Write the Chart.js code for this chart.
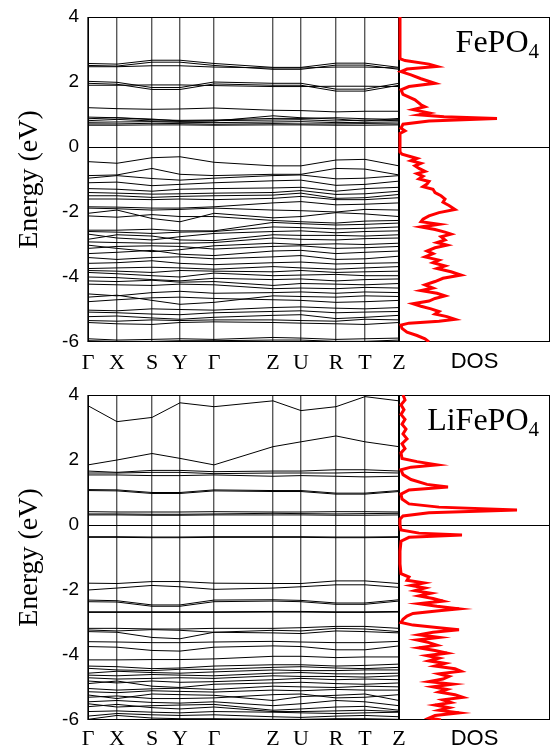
<!DOCTYPE html>
<html lang="en">
<head>
    <meta charset="UTF-8">
    <title>FePO4 / LiFePO4 band structure and DOS</title>
    <script src="https://cdn.jsdelivr.net/npm/chart.js"></script>
    <style>
        body {
            margin: 0;
            background: #fff;
        }
        .stage {
            position: relative;
            width: 551px;
            height: 752px;
        }
        canvas {
            position: absolute;
        }
    </style>
</head>
<body>
    <div class="stage">
        <canvas id="feBand"></canvas>
        <canvas id="feDos"></canvas>
        <canvas id="liBand"></canvas>
        <canvas id="liDos"></canvas>
    </div>
    <script>
        // k-path: distance along the path and the label of each high-symmetry point
        const kDist = [0, 29, 64, 92, 126, 185, 213, 248, 277, 311];
        const kLabels = ['Γ', 'X', 'S', 'Y', 'Γ', 'Z', 'U', 'R', 'T', 'Z'];
        const energyTicks = [-6, -4, -2, 0, 2, 4];

        // FePO4 bands, energy (eV) at each k-point
        const feBands = [
            [2.57, 2.55, 2.67, 2.67, 2.57, 2.45, 2.45, 2.58, 2.58, 2.45],
            [2.51, 2.49, 2.61, 2.61, 2.51, 2.39, 2.39, 2.52, 2.52, 2.39],
            [2.47, 2.47, 2.50, 2.50, 2.46, 2.43, 2.43, 2.46, 2.46, 2.43],
            [2.02, 1.99, 1.83, 1.83, 2.00, 1.96, 1.96, 1.78, 1.78, 1.96],
            [1.96, 1.93, 1.77, 1.77, 1.94, 1.90, 1.90, 1.72, 1.72, 1.90],
            [1.90, 1.90, 1.91, 1.91, 1.89, 1.86, 1.86, 1.87, 1.87, 1.86],
            [1.21, 1.18, 1.16, 1.17, 1.20, 1.13, 1.12, 1.08, 1.10, 1.10],
            [0.92, 0.90, 0.86, 0.80, 0.80, 0.96, 0.90, 0.86, 0.80, 0.88],
            [0.87, 0.90, 0.84, 0.82, 0.83, 0.88, 0.88, 0.90, 0.87, 0.85],
            [0.81, 0.85, 0.80, 0.79, 0.81, 0.83, 0.84, 0.80, 0.83, 0.81],
            [0.76, 0.77, 0.78, 0.76, 0.75, 0.77, 0.78, 0.75, 0.76, 0.77],
            [0.71, 0.71, 0.73, 0.72, 0.70, 0.72, 0.71, 0.71, 0.72, 0.71],
            [0.67, 0.67, 0.68, 0.68, 0.67, 0.68, 0.68, 0.67, 0.67, 0.68],
            [-0.45, -0.50, -0.33, -0.30, -0.47, -0.58, -0.58, -0.40, -0.38, -0.58],
            [-0.88, -0.86, -0.66, -0.84, -0.88, -0.84, -0.84, -0.66, -0.68, -0.86],
            [-0.96, -0.88, -0.97, -1.02, -0.96, -0.88, -0.86, -0.98, -0.96, -0.88],
            [-1.10, -1.08, -1.19, -1.15, -1.10, -1.04, -1.02, -1.18, -1.15, -1.05],
            [-1.28, -1.30, -1.36, -1.30, -1.28, -1.26, -1.24, -1.36, -1.28, -1.24],
            [-1.40, -1.42, -1.45, -1.44, -1.42, -1.40, -1.34, -1.46, -1.44, -1.36],
            [-1.50, -1.50, -1.55, -1.52, -1.50, -1.48, -1.42, -1.58, -1.56, -1.46],
            [-1.60, -1.60, -1.62, -1.60, -1.62, -1.58, -1.52, -1.62, -1.62, -1.56],
            [-1.84, -1.85, -1.88, -1.88, -1.84, -1.72, -1.68, -1.78, -1.76, -1.72],
            [-1.88, -1.90, -1.94, -1.92, -1.88, -1.94, -1.96, -2.00, -1.92, -1.94],
            [-2.04, -1.94, -2.20, -2.30, -2.04, -2.18, -2.14, -2.02, -2.06, -2.14],
            [-2.12, -2.16, -2.08, -2.14, -2.14, -2.26, -2.30, -2.34, -2.28, -2.26],
            [-2.56, -2.56, -2.53, -2.58, -2.58, -2.32, -2.36, -2.40, -2.38, -2.34],
            [-2.60, -2.62, -2.66, -2.62, -2.60, -2.46, -2.48, -2.52, -2.50, -2.46],
            [-2.68, -2.80, -2.86, -2.76, -2.66, -2.60, -2.58, -2.64, -2.60, -2.58],
            [-2.84, -2.70, -2.74, -2.86, -2.88, -2.70, -2.72, -2.72, -2.74, -2.70],
            [-2.92, -2.94, -2.96, -2.96, -2.94, -2.80, -2.84, -2.86, -2.82, -2.80],
            [-3.02, -3.12, -3.22, -3.16, -3.04, -2.96, -3.00, -2.98, -3.00, -2.96],
            [-3.12, -3.06, -3.04, -3.06, -3.14, -3.06, -3.04, -3.12, -3.10, -3.06],
            [-3.28, -3.24, -3.18, -3.30, -3.34, -3.20, -3.18, -3.28, -3.24, -3.20],
            [-3.40, -3.46, -3.40, -3.38, -3.44, -3.38, -3.34, -3.46, -3.44, -3.36],
            [-3.58, -3.56, -3.50, -3.58, -3.62, -3.56, -3.54, -3.60, -3.58, -3.56],
            [-3.74, -3.72, -3.70, -3.72, -3.76, -3.68, -3.72, -3.76, -3.72, -3.68],
            [-3.80, -3.82, -3.86, -3.80, -3.82, -3.84, -3.80, -3.86, -3.84, -3.82],
            [-3.86, -3.90, -3.96, -4.00, -3.88, -3.96, -3.94, -3.92, -3.96, -3.96],
            [-4.00, -4.02, -4.08, -4.12, -4.04, -4.08, -4.06, -4.12, -4.08, -4.06],
            [-4.12, -4.14, -4.10, -4.16, -4.14, -4.26, -4.20, -4.22, -4.24, -4.20],
            [-4.22, -4.24, -4.26, -4.22, -4.24, -4.36, -4.34, -4.36, -4.32, -4.34],
            [-4.52, -4.58, -4.48, -4.44, -4.50, -4.48, -4.46, -4.50, -4.46, -4.48],
            [-4.62, -4.56, -4.72, -4.84, -4.78, -4.58, -4.60, -4.62, -4.58, -4.60],
            [-4.76, -4.70, -4.64, -4.62, -4.66, -4.70, -4.72, -4.78, -4.76, -4.72],
            [-5.02, -5.04, -4.98, -5.00, -5.02, -4.94, -4.92, -4.96, -4.98, -4.94],
            [-5.08, -5.10, -5.14, -5.16, -5.10, -5.06, -5.04, -5.10, -5.08, -5.06],
            [-5.22, -5.20, -5.26, -5.30, -5.24, -5.18, -5.16, -5.28, -5.24, -5.18],
            [-5.34, -5.36, -5.32, -5.34, -5.32, -5.32, -5.34, -5.36, -5.30, -5.32],
            [-5.40, -5.44, -5.46, -5.40, -5.38, -5.40, -5.42, -5.44, -5.46, -5.40],
            [-5.90, -5.94, -5.92, -5.90, -5.92, -5.86, -5.88, -5.92, -5.90, -5.88],
            [-5.96, -5.98, -5.98, -5.96, -5.96, -5.94, -5.94, -5.98, -5.98, -5.94]
        ];

        // LiFePO4 bands
        const liBands = [
            [3.67, 3.18, 3.31, 3.76, 3.64, 3.82, 3.52, 3.64, 3.95, 3.82],
            [1.85, 2.00, 2.20, 2.05, 1.85, 2.41, 2.56, 2.74, 2.56, 2.41],
            [1.66, 1.62, 1.68, 1.68, 1.64, 1.66, 1.66, 1.70, 1.70, 1.66],
            [1.60, 1.60, 1.62, 1.62, 1.58, 1.60, 1.60, 1.60, 1.62, 1.60],
            [1.54, 1.54, 1.52, 1.52, 1.54, 1.50, 1.52, 1.50, 1.48, 1.50],
            [1.09, 1.08, 1.00, 1.00, 1.08, 1.06, 1.06, 0.98, 0.98, 1.06],
            [1.06, 1.05, 0.97, 0.97, 1.05, 1.03, 1.03, 0.95, 0.95, 1.03],
            [0.41, 0.40, 0.40, 0.40, 0.41, 0.40, 0.40, 0.41, 0.41, 0.40],
            [0.34, 0.34, 0.33, 0.33, 0.34, 0.36, 0.35, 0.34, 0.35, 0.36],
            [0.31, 0.31, 0.30, 0.30, 0.31, 0.31, 0.31, 0.30, 0.30, 0.31],
            [-0.36, -0.36, -0.37, -0.37, -0.36, -0.36, -0.36, -0.37, -0.37, -0.36],
            [-0.38, -0.38, -0.39, -0.39, -0.38, -0.38, -0.38, -0.39, -0.39, -0.38],
            [-1.79, -1.80, -1.74, -1.74, -1.79, -1.80, -1.80, -1.72, -1.72, -1.80],
            [-2.00, -1.94, -1.86, -1.90, -1.98, -1.94, -1.90, -1.84, -1.84, -1.92],
            [-2.31, -2.33, -2.46, -2.46, -2.31, -2.30, -2.32, -2.40, -2.40, -2.30],
            [-2.36, -2.37, -2.50, -2.50, -2.36, -2.34, -2.36, -2.44, -2.44, -2.34],
            [-2.67, -2.67, -2.67, -2.67, -2.67, -2.66, -2.66, -2.67, -2.67, -2.66],
            [-2.69, -2.69, -2.69, -2.69, -2.69, -2.68, -2.68, -2.69, -2.69, -2.68],
            [-3.18, -3.18, -3.20, -3.20, -3.18, -3.18, -3.16, -3.12, -3.12, -3.18],
            [-3.23, -3.26, -3.22, -3.24, -3.30, -3.24, -3.26, -3.18, -3.20, -3.28],
            [-3.28, -3.30, -3.46, -3.50, -3.30, -3.32, -3.34, -3.26, -3.28, -3.32],
            [-3.59, -3.60, -3.62, -3.62, -3.60, -3.58, -3.60, -3.62, -3.62, -3.58],
            [-3.74, -3.76, -3.86, -3.88, -3.76, -3.72, -3.74, -3.84, -3.84, -3.72],
            [-4.15, -4.15, -4.14, -4.14, -4.12, -4.04, -4.04, -4.08, -4.06, -4.06],
            [-4.34, -4.36, -4.42, -4.40, -4.34, -4.30, -4.30, -4.34, -4.32, -4.28],
            [-4.41, -4.46, -4.48, -4.44, -4.44, -4.38, -4.36, -4.40, -4.42, -4.38],
            [-4.56, -4.50, -4.54, -4.56, -4.52, -4.46, -4.48, -4.48, -4.46, -4.46],
            [-4.62, -4.64, -4.60, -4.62, -4.64, -4.56, -4.54, -4.58, -4.58, -4.56],
            [-4.70, -4.74, -4.72, -4.70, -4.72, -4.64, -4.66, -4.66, -4.68, -4.64],
            [-4.80, -4.86, -4.80, -4.84, -4.82, -4.76, -4.72, -4.76, -4.74, -4.76],
            [-4.88, -4.80, -4.96, -5.00, -4.90, -4.86, -4.84, -4.88, -4.90, -4.86],
            [-5.03, -5.08, -5.04, -5.02, -5.06, -4.96, -4.98, -5.00, -4.96, -4.98],
            [-5.13, -5.16, -5.10, -5.12, -5.14, -5.08, -5.10, -5.06, -5.08, -5.08],
            [-5.23, -5.34, -5.20, -5.22, -5.24, -5.40, -5.28, -5.24, -5.20, -5.40],
            [-5.30, -5.26, -5.34, -5.34, -5.32, -5.22, -5.20, -5.32, -5.30, -5.22],
            [-5.44, -5.40, -5.46, -5.48, -5.44, -5.56, -5.50, -5.40, -5.44, -5.56],
            [-5.50, -5.60, -5.56, -5.54, -5.52, -5.70, -5.66, -5.60, -5.58, -5.70],
            [-5.59, -5.52, -5.62, -5.66, -5.60, -5.74, -5.74, -5.72, -5.70, -5.74],
            [-5.74, -5.72, -5.76, -5.78, -5.74, -5.76, -5.78, -5.80, -5.78, -5.76],
            [-5.88, -5.80, -5.84, -5.86, -5.84, -5.90, -5.92, -5.88, -5.86, -5.90],
            [-5.98, -5.86, -5.94, -5.96, -5.96, -5.98, -5.98, -5.96, -5.96, -5.98]
        ];

        // total DOS (arb. units) against energy (eV)
        const feDosEnergy = [4, 2.72, 2.66, 2.55, 2.48, 2.40, 2.32, 2.22, 2.10, 1.96, 1.86, 1.76, 1.62, 1.45, 1.30, 1.24, 1.15, 1.05, 0.99, 0.93, 0.88, 0.80, 0.70, 0.58, 0.50, 0.42, 0.00,
            -0.15, -0.22, -0.30, -0.35, -0.42, -0.50, -0.58, -0.66, -0.75, -0.82, -0.90, -0.98, -1.06, -1.14, -1.22, -1.30, -1.40, -1.50, -1.60, -1.70, -1.80, -1.92,
            -2.02, -2.12, -2.22, -2.30, -2.38, -2.46, -2.54, -2.62, -2.68, -2.76, -2.86, -2.94, -3.02, -3.10, -3.20, -3.28, -3.38, -3.48, -3.56, -3.66, -3.74, -3.84,
            -3.94, -4.04, -4.14, -4.24, -4.34, -4.42, -4.50, -4.58, -4.66, -4.74, -4.82, -4.90, -4.98, -5.06, -5.14, -5.22, -5.30, -5.36, -5.42, -5.48, -5.58,
            -5.70, -5.80, -5.90, -6.00];
        const feDosValue = [1, 1, 6, 30, 38, 8, 2, 12, 22, 36, 10, 2, 4, 16, 22, 26, 14, 30, 20, 45, 98, 30, 4, 2, 6, 1, 1,
            1, 3, 12, 18, 12, 22, 16, 20, 26, 18, 24, 20, 30, 28, 24, 34, 36, 42, 46, 44, 50, 56,
            40, 30, 24, 22, 40, 22, 36, 46, 52, 42, 46, 38, 48, 36, 28, 34, 26, 40, 34, 46, 38, 52,
            62, 44, 36, 26, 34, 22, 38, 46, 36, 30, 14, 22, 32, 40, 36, 48, 56, 40, 10, 2, 3,
            8, 18, 26, 30];

        const liDosEnergy = [4.00, 3.85, 3.70, 3.55, 3.40, 3.25, 3.10, 2.95, 2.80, 2.65, 2.50, 2.35, 2.22, 2.05, 1.95, 1.85, 1.78, 1.70, 1.55, 1.40, 1.25, 1.17, 1.08,
            0.95, 0.80, 0.65, 0.55, 0.46, 0.38, 0.28, 0.18, 0.00, -0.15, -0.25, -0.31, -0.38, -0.50, -0.80, -1.20, -1.50, -1.60, -1.70, -1.78, -1.86, -1.94,
            -2.02, -2.10, -2.18, -2.26, -2.34, -2.42, -2.50, -2.58, -2.64, -2.72, -2.80, -2.90, -3.00, -3.08, -3.16, -3.22, -3.30, -3.38, -3.46, -3.54, -3.62,
            -3.70, -3.78, -3.86, -3.94, -4.02, -4.10, -4.18, -4.26, -4.34, -4.42, -4.50, -4.58, -4.66, -4.74, -4.82, -4.90, -4.98, -5.06, -5.14, -5.22,
            -5.30, -5.38, -5.46, -5.54, -5.62, -5.70, -5.78, -5.86, -5.94, -6.00];
        const liDosValue = [4, 6, 2, 5, 2, 6, 3, 7, 4, 8, 3, 6, 2, 3, 18, 38, 12, 2, 4, 12, 28, 49, 10,
            2, 3, 10, 40, 118, 30, 4, 1, 1, 2, 20, 63, 10, 2, 1, 1, 2, 10, 8, 25, 12, 26,
            16, 32, 20, 34, 44, 20, 38, 60, 40, 14, 8, 4, 2, 14, 40, 60, 34, 20, 40, 18, 30,
            38, 20, 36, 48, 28, 40, 30, 46, 36, 56, 62, 40, 50, 44, 30, 54, 34, 48, 40, 56,
            64, 44, 52, 36, 50, 40, 60, 36, 30, 42];

        const serif = "'Liberation Serif', 'Times New Roman', serif";
        const sans = "'Liberation Sans', Arial, sans-serif";

        // outer box plus the Fermi level line
        const framePlugin = {
            id: 'frame',
            beforeDatasetsDraw(chart) {
                const {ctx, chartArea: a, scales} = chart;
                const y0 = Math.round(scales.y.getPixelForValue(0)) + 0.5;
                ctx.save();
                ctx.strokeStyle = '#000';
                ctx.lineWidth = 1;
                ctx.beginPath();
                ctx.moveTo(a.left, y0);
                ctx.lineTo(a.right, y0);
                ctx.stroke();
                ctx.strokeRect(Math.round(a.left) + 0.5, Math.round(a.top) + 0.5,
                    Math.round(a.width) - 1, Math.round(a.height) - 1);
                ctx.restore();
            }
        };

        // compound name with subscript in the DOS panel
        const namePlugin = {
            id: 'compound',
            afterDraw(chart, args, opts) {
                const {ctx, chartArea: a} = chart;
                ctx.save();
                ctx.fillStyle = '#000';
                ctx.textBaseline = 'alphabetic';
                ctx.font = '21px ' + serif;
                const subW = ctx.measureText(opts.sub).width;
                ctx.font = '32px ' + serif;
                const mainW = ctx.measureText(opts.main).width;
                const x = a.right - 11 - subW - mainW;
                const y = a.top + 35;
                ctx.fillText(opts.main, x, y);
                ctx.font = '21px ' + serif;
                ctx.fillText(opts.sub, x + mainW, y + 6);
                ctx.restore();
            }
        };

        // keep label overhang from shrinking the plot area
        function noMargins(s) {
            s.paddingLeft = 0;
            s.paddingRight = 0;
            s.paddingTop = 0;
            s.paddingBottom = 0;
        }

        function placeCanvas(id, left, top, width, height) {
            const c = document.getElementById(id);
            c.style.left = left + 'px';
            c.style.top = top + 'px';
            c.style.width = width + 'px';
            c.style.height = height + 'px';
            c.width = width;
            c.height = height;
            return c;
        }

        function createBandChart(id, top, height, areaTop, areaBottom, labelPad, bands) {
            // wider than the plot so the last k label is not cut off
            const canvas = placeCanvas(id, 0, top, 412, height);
            return new Chart(canvas.getContext('2d'), {
                type: 'line',
                data: {
                    datasets: bands.map(b => ({
                        data: b.map((e, i) => ({x: kDist[i], y: e})),
                        borderColor: '#000',
                        borderWidth: 1,
                        pointRadius: 0,
                        tension: 0,
                        fill: false
                    }))
                },
                options: {
                    responsive: false,
                    animation: false,
                    events: [],
                    layout: {padding: {left: 0, right: 13, top: areaTop, bottom: 0}},
                    plugins: {legend: {display: false}, tooltip: {enabled: false}},
                    scales: {
                        x: {
                            type: 'linear',
                            min: kDist[0],
                            max: kDist[kDist.length - 1],
                            afterBuildTicks: s => { s.ticks = kDist.map(v => ({value: v})); },
                            afterFit: s => { s.height = height - areaBottom; noMargins(s); },
                            ticks: {
                                autoSkip: false,
                                maxRotation: 0,
                                padding: labelPad,
                                color: '#000',
                                font: {family: serif, size: 22},
                                callback: (v, i) => kLabels[i]
                            },
                            grid: {color: '#5a5a5a', lineWidth: 1.4, drawTicks: false},
                            border: {display: false}
                        },
                        y: {
                            min: -6,
                            max: 4,
                            afterBuildTicks: s => { s.ticks = energyTicks.map(v => ({value: v})); },
                            afterFit: s => { s.width = 88; noMargins(s); },
                            ticks: {
                                padding: 9,
                                color: '#000',
                                font: {family: sans, size: 19}
                            },
                            grid: {display: false, drawTicks: false},
                            border: {display: false},
                            title: {
                                display: true,
                                text: 'Energy (eV)',
                                color: '#000',
                                font: {family: serif, size: 28},
                                padding: {top: 13, bottom: 0}
                            }
                        }
                    }
                },
                plugins: [framePlugin]
            });
        }

        function createDosChart(id, top, height, areaTop, areaBottom, energy, dos, main, sub) {
            const canvas = placeCanvas(id, 395, top, 156, height);
            return new Chart(canvas.getContext('2d'), {
                type: 'scatter',
                data: {
                    datasets: [{
                        data: energy.map((e, i) => ({x: dos[i], y: e})),
                        showLine: true,
                        borderColor: '#ff0000',
                        borderWidth: 3,
                        pointRadius: 0,
                        tension: 0,
                        clip: {left: 4, right: 0, top: 0, bottom: 0}
                    }]
                },
                options: {
                    responsive: false,
                    animation: false,
                    events: [],
                    layout: {padding: {left: 4, right: 1, top: areaTop, bottom: 0}},
                    plugins: {
                        legend: {display: false},
                        tooltip: {enabled: false},
                        compound: {main: main, sub: sub}
                    },
                    scales: {
                        x: {
                            type: 'linear',
                            min: 0,
                            max: 151,
                            afterFit: s => { s.height = height - areaBottom; noMargins(s); },
                            ticks: {display: false},
                            grid: {display: false, drawTicks: false},
                            border: {display: false},
                            title: {
                                display: true,
                                text: 'DOS',
                                color: '#000',
                                font: {family: sans, size: 22, lineHeight: 1},
                                padding: {top: 0, bottom: 2}
                            }
                        },
                        y: {
                            display: false,
                            min: -6,
                            max: 4
                        }
                    }
                },
                plugins: [framePlugin, namePlugin]
            });
        }

        createBandChart('feBand', 0, 375, 17, 342, 8, feBands);
        createDosChart('feDos', 0, 375, 17, 342, feDosEnergy, feDosValue, 'FePO', '4');
        createBandChart('liBand', 375, 377, 20, 345, 6, liBands);
        createDosChart('liDos', 375, 377, 20, 345, liDosEnergy, liDosValue, 'LiFePO', '4');
    </script>
</body>
</html>
